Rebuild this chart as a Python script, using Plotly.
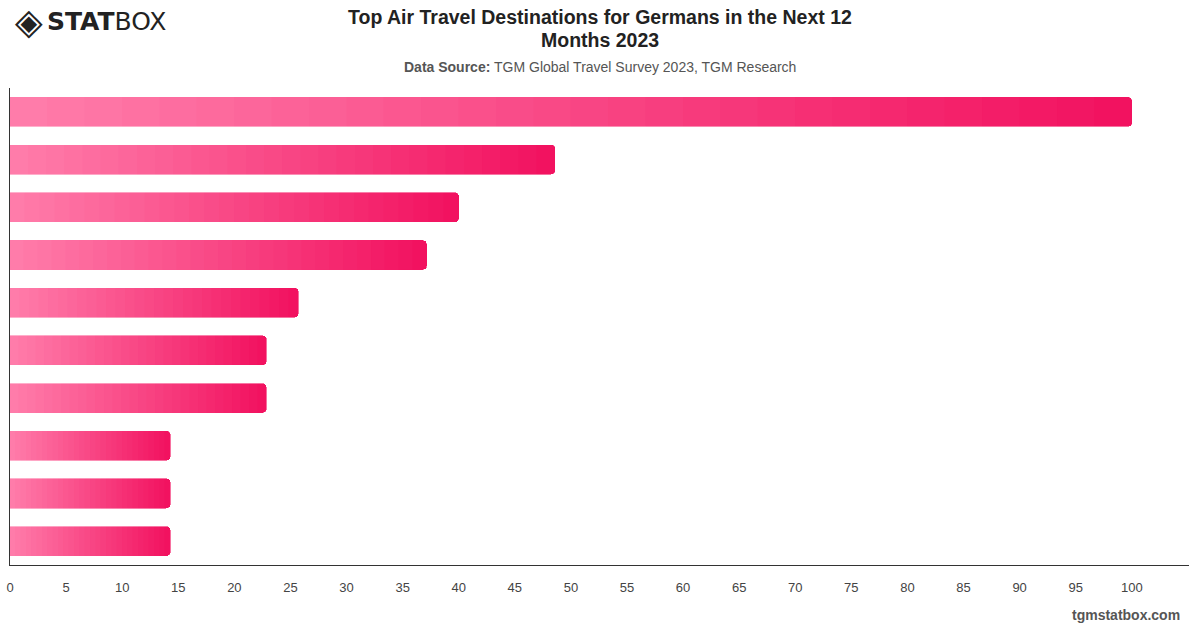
import plotly.graph_objects as go

# Data (relative scores, top destination = 100)
categories = ["Destination 1", "Destination 2", "Destination 3", "Destination 4", "Destination 5",
              "Destination 6", "Destination 7", "Destination 8", "Destination 9", "Destination 10"]
values = [100.0, 48.57, 40.0, 37.14, 25.71, 22.86, 22.86, 14.29, 14.29, 14.29]
x_ticks = list(range(0, 101, 5))

title_lines = ["<b>Top Air Travel Destinations for Germans in the Next 12</b>", "<b>Months 2023</b>"]
subtitle_text = "<b>Data Source:</b> TGM Global Travel Survey 2023, TGM Research"

# gradient colours (start -> end of each bar)
c0 = (255, 124, 170)
c1 = (242, 18, 96)
N = 30

fig = go.Figure()
for i in range(N):
    t = i / (N - 1)
    col = "rgb(%d,%d,%d)" % tuple(round(a + (b - a) * t) for a, b in zip(c0, c1))
    fig.add_trace(go.Bar(
        y=categories,
        x=[v / N for v in values],
        orientation="h",
        marker=dict(color=col, line=dict(color=col, width=0.6)),
        hoverinfo="skip",
        showlegend=False,
    ))

fig.update_layout(
    width=1200, height=628,
    barmode="stack",
    bargap=0.39,
    barcornerradius=4,
    paper_bgcolor="white",
    plot_bgcolor="white",
    margin=dict(l=10, r=11, t=88, b=63),
    font=dict(family="Liberation Sans, Arial, sans-serif", color="#333"),
    xaxis=dict(
        range=[0, 105.1],
        tickvals=x_ticks,
        showgrid=False,
        zeroline=False,
        showline=True,
        linecolor="#333",
        linewidth=1,
        ticks="",
        ticklabelstandoff=10,
        tickfont=dict(size=13, color="#444"),
        fixedrange=True,
        automargin=False,
    ),
    yaxis=dict(
        autorange="reversed",
        showticklabels=False,
        showgrid=False,
        zeroline=False,
        showline=True,
        linecolor="#333",
        linewidth=1,
        ticks="",
        fixedrange=True,
        automargin=False,
    ),
)

# Title (two lines); paper y=1 sits at 88 px from the top
for line, ypix in zip(title_lines, [17, 40]):
    fig.add_annotation(
        text=line, xref="paper", yref="paper", x=0.5, y=1,
        xanchor="center", yanchor="middle", yshift=88 - ypix,
        showarrow=False,
        font=dict(size=19.5, color="#222", family="Liberation Sans, Arial, sans-serif"),
    )
# Subtitle
fig.add_annotation(
    text=subtitle_text, xref="paper", yref="paper", x=0.5, y=1,
    xanchor="center", yanchor="middle", yshift=88 - 67,
    showarrow=False, font=dict(size=14, color="#555"),
)
# Logo
fig.add_annotation(
    text="◈", xref="paper", yref="paper", x=0, y=1, xshift=3, yshift=88 - 21,
    xanchor="left", yanchor="middle",
    showarrow=False, font=dict(size=36, color="#222", family="DejaVu Sans"),
)
fig.add_annotation(
    text="<b>STAT</b>BOX", xref="paper", yref="paper", x=0, y=1, xshift=35, yshift=88 - 21,
    xanchor="left", yanchor="middle",
    showarrow=False, font=dict(size=25, color="#222", family="DejaVu Sans"),
)
# Footer
fig.add_annotation(
    text="<b>tgmstatbox.com</b>", xref="paper", yref="paper", x=1, y=0,
    xanchor="right", yanchor="middle", xshift=-7, yshift=-(615 - 565),
    showarrow=False, font=dict(size=14, color="#555"),
)

fig.write_html("out.html")
